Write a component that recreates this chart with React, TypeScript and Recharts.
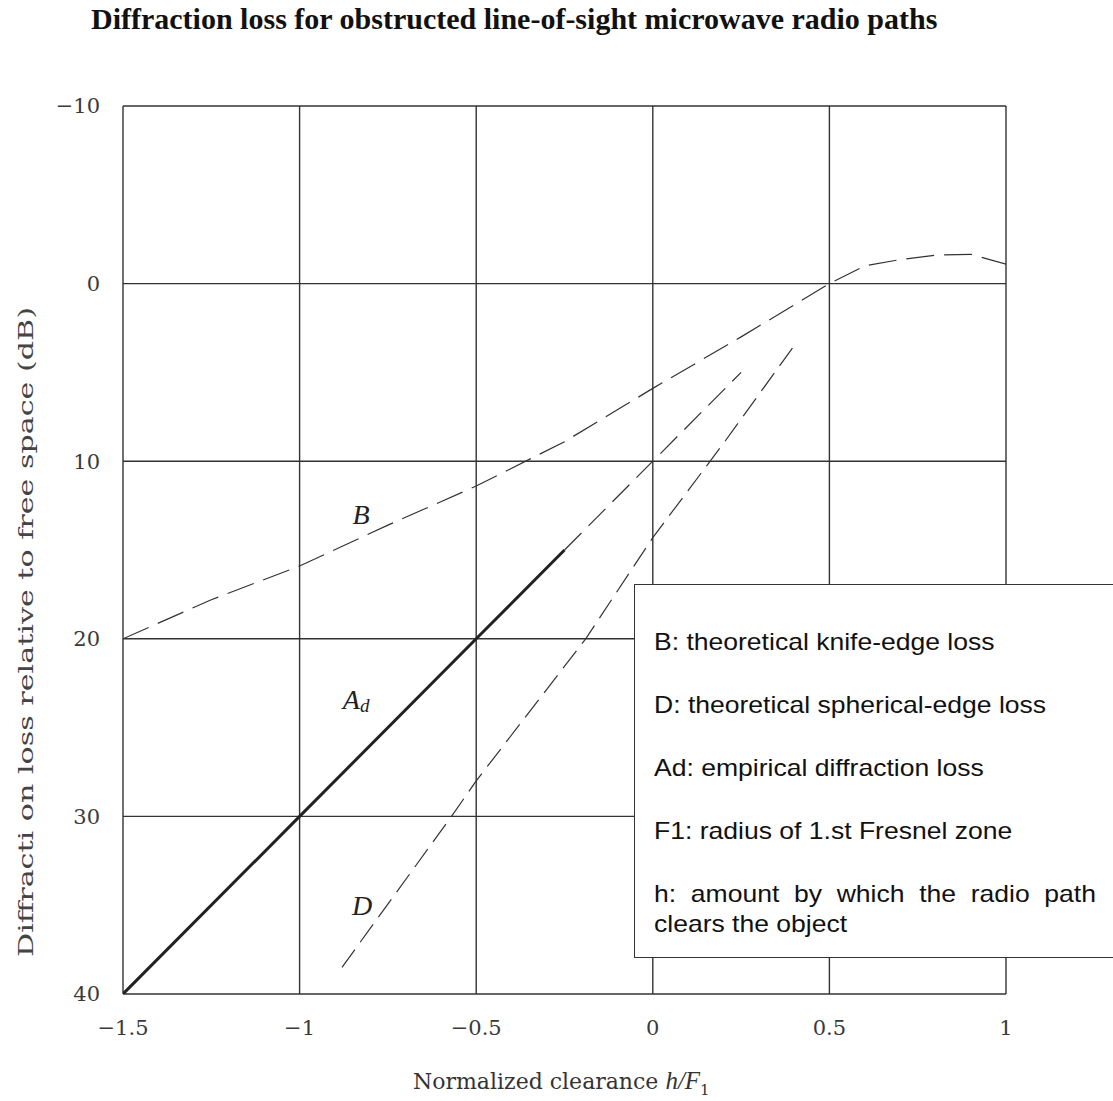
import React from 'react';
import { LineChart, Line, XAxis, YAxis, CartesianGrid, ReferenceDot } from 'recharts';

const xTicks = [-1.5, -1, -0.5, 0, 0.5, 1];
const yTicks = [-10, 0, 10, 20, 30, 40];

// B: theoretical knife-edge loss
const bX = [-1.5, -1.25, -1.0, -0.75, -0.5, -0.25, 0, 0.25, 0.5, 0.6, 0.7, 0.8, 0.9, 1.0];
const bY = [20, 17.8, 15.9, 13.6, 11.4, 8.9, 5.9, 3.0, 0, -1.0, -1.35, -1.6, -1.65, -1.1];

// Ad: empirical diffraction loss (solid part and dashed extension)
const adX = [-1.5, -1.0, -0.5, -0.25];
const adY = [40, 30, 20, 15];
const adExtX = [-0.25, 0, 0.25];
const adExtY = [15, 10, 5];

// D: theoretical spherical-edge loss
const dX = [-0.88, -0.57, -0.5, -0.19, 0, 0.2, 0.4];
const dY = [38.5, 30, 28, 20, 14.3, 9, 3.5];

const legendItems = [
  'B: theoretical knife-edge loss',
  'D: theoretical spherical-edge loss',
  'Ad: empirical diffraction loss',
  'F1: radius of 1.st Fresnel zone',
  'h: amount by which the radio path clears the object',
];

const zip = (xs: number[], ys: number[]) => xs.map((x, i) => ({ x, y: ys[i] }));

const bData = zip(bX, bY);
const adData = zip(adX, adY);
const adExtData = zip(adExtX, adExtY);
const dData = zip(dX, dY);

const fmt = (v: number) => (v < 0 ? '\u2212' + Math.abs(v) : String(v));

const CurveLabel = (props: any) => {
  const { viewBox, text, sub } = props;
  const cx = viewBox.x + (viewBox.width || 0) / 2;
  const cy = viewBox.y + (viewBox.height || 0) / 2;
  return (
    <text
      x={cx}
      y={cy}
      textAnchor="middle"
      dominantBaseline="central"
      fontFamily="'Liberation Serif', serif"
      fontStyle="italic"
      fontSize={28}
      fill="#222"
    >
      {text}
      {sub ? (
        <tspan fontSize={19} dy={6}>
          {sub}
        </tspan>
      ) : null}
    </text>
  );
};

export default function App() {
  return (
    <div
      style={{
        position: 'absolute',
        left: 0,
        top: 0,
        width: 1113,
        height: 1101,
        overflow: 'hidden',
        background: '#fff',
      }}
    >
      <LineChart width={1113} height={1101} margin={{ top: 106, right: 107, bottom: 47, left: 43 }}>
        <CartesianGrid stroke="#333" strokeWidth={1.4} />
        <XAxis
          type="number"
          dataKey="x"
          domain={[-1.5, 1]}
          ticks={xTicks}
          tickFormatter={fmt}
          height={60}
          axisLine={false}
          tickLine={false}
          tickMargin={20}
          allowDataOverflow
          tick={{ fontFamily: "'DejaVu Serif', serif", fontSize: 21, fill: '#3a3a3a' }}
        />
        <YAxis
          type="number"
          domain={[-10, 40]}
          ticks={yTicks}
          tickFormatter={fmt}
          reversed
          width={80}
          axisLine={false}
          tickLine={false}
          tickMargin={17}
          allowDataOverflow
          tick={{ fontFamily: "'DejaVu Serif', serif", fontSize: 21, fill: '#3a3a3a' }}
        />
        <Line
          data={bData}
          dataKey="y"
          type="linear"
          stroke="#333"
          strokeWidth={1.2}
          strokeDasharray="28 10"
          dot={false}
          isAnimationActive={false}
        />
        <Line
          data={adData}
          dataKey="y"
          type="linear"
          stroke="#222"
          strokeWidth={3}
          dot={false}
          isAnimationActive={false}
        />
        <Line
          data={adExtData}
          dataKey="y"
          type="linear"
          stroke="#333"
          strokeWidth={1.2}
          strokeDasharray="24 10"
          dot={false}
          isAnimationActive={false}
        />
        <Line
          data={dData}
          dataKey="y"
          type="linear"
          stroke="#333"
          strokeWidth={1.2}
          strokeDasharray="22 9"
          dot={false}
          isAnimationActive={false}
        />
        <ReferenceDot x={-0.826} y={13.0} r={0} fill="none" stroke="none"
          label={(p: any) => <CurveLabel {...p} text="B" />} />
        <ReferenceDot x={-0.84} y={23.4} r={0} fill="none" stroke="none"
          label={(p: any) => <CurveLabel {...p} text="A" sub="d" />} />
        <ReferenceDot x={-0.823} y={35.0} r={0} fill="none" stroke="none"
          label={(p: any) => <CurveLabel {...p} text="D" />} />
      </LineChart>

      <svg
        width={1113}
        height={1101}
        style={{ position: 'absolute', left: 0, top: 0, pointerEvents: 'none' }}
      >
        <text x={91} y={29} fontFamily="'Liberation Serif', serif" fontWeight="bold" fontSize={30} fill="#111">
          Diffraction loss for obstructed line-of-sight microwave radio paths
        </text>
        <text
          transform="translate(33, 632) rotate(-90)"
          textAnchor="middle"
          fontFamily="'DejaVu Serif', serif"
          fontSize={21}
          fill="#444"
          textLength={650}
          lengthAdjust="spacingAndGlyphs"
        >
          Diffracti on loss relative to free space (dB)
        </text>
        <text x={413} y={1089} fontFamily="'DejaVu Serif', serif" fontSize={22} fill="#333">
          Normalized clearance{' '}
          <tspan fontFamily="'Liberation Serif', serif" fontStyle="italic" fontSize={25}>
            h/F
          </tspan>
          <tspan fontSize={15} dy={6}>
            1
          </tspan>
        </text>
      </svg>

      <div
        style={{
          position: 'absolute',
          left: 634,
          top: 584,
          width: 520,
          height: 374,
          border: '1.5px solid #333',
          background: '#fff',
          boxSizing: 'border-box',
        }}
      >
        <div
          style={{
            position: 'absolute',
            left: 19,
            top: 42,
            width: 400,
            transform: 'scaleX(1.105)',
            transformOrigin: 'left top',
            fontFamily: "'Liberation Sans', Arial, sans-serif",
            fontSize: 24,
            lineHeight: '30px',
            color: '#111',
            textAlign: 'justify',
          }}
        >
          {legendItems.map((t, i) => (
            <div key={i} style={{ marginBottom: i < legendItems.length - 1 ? 33 : 0 }}>
              {t}
            </div>
          ))}
        </div>
      </div>
    </div>
  );
}
